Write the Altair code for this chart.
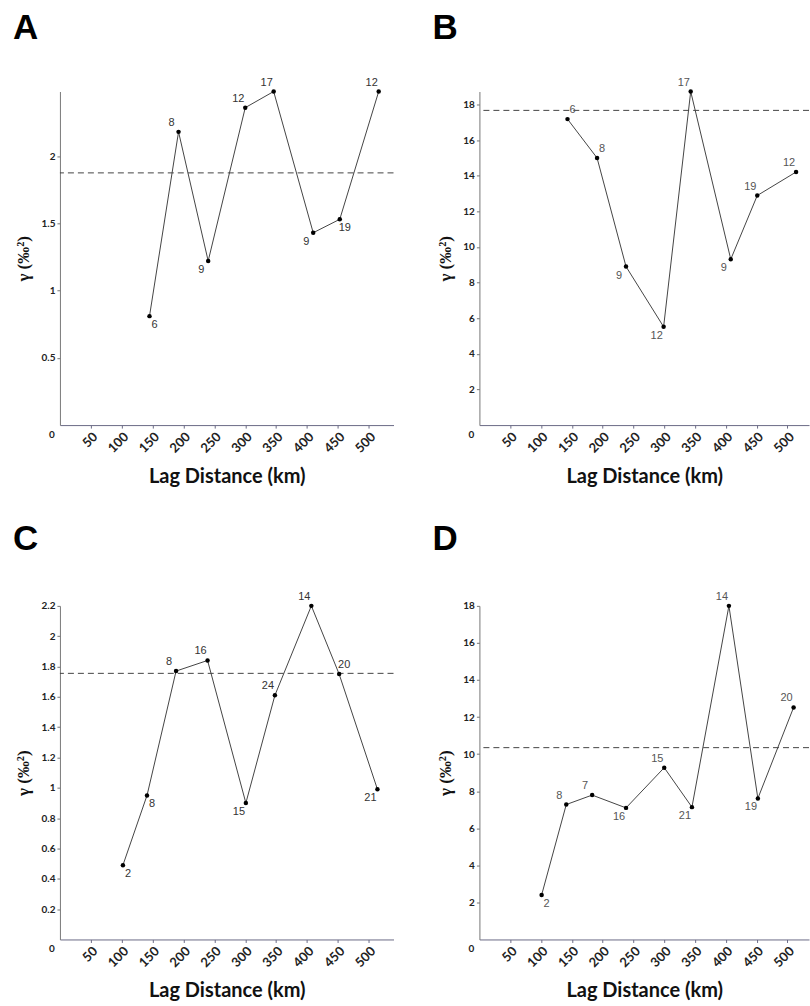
import altair as alt
import pandas as pd

# Lag classes (km), semivariance and number of pairs per lag, one set per panel
a_lag = [145, 192, 240, 300, 346, 410, 453, 516]
a_gamma = [0.81, 2.18, 1.22, 2.36, 2.48, 1.43, 1.53, 2.48]
a_pairs = [6, 8, 9, 12, 17, 9, 19, 12]
a_side = ["lr", "ul", "ll", "ul", "ul", "ll", "lr", "ul"]
a_sill = 1.875
a_ticks = [0.5, 1, 1.5, 2]

b_lag = [143, 191, 238, 299, 343, 408, 451, 514]
b_gamma = [17.18, 15.0, 8.9, 5.52, 18.73, 9.31, 12.89, 14.21]
b_pairs = [6, 8, 9, 12, 17, 9, 19, 12]
b_side = ["ur", "ur", "ll", "ll", "ul", "ll", "ul", "ul"]
b_sill = 17.67
b_ticks = [2, 4, 6, 8, 10, 12, 14, 16, 18]

c_lag = [102, 141, 188, 239, 301, 348, 407, 452, 514]
c_gamma = [0.49, 0.95, 1.77, 1.84, 0.90, 1.61, 2.20, 1.75, 0.99]
c_pairs = [2, 8, 8, 16, 15, 24, 14, 20, 21]
c_side = ["lr", "lr", "ul", "ul", "ll", "ul", "ul", "ur", "ll"]
c_sill = 1.755
c_ticks = [0.2, 0.4, 0.6, 0.8, 1, 1.2, 1.4, 1.6, 1.8, 2, 2.2]

d_lag = [101, 141, 183, 238, 300, 345, 405, 452, 510]
d_gamma = [2.40, 7.28, 7.79, 7.10, 9.27, 7.14, 18.0, 7.61, 12.52]
d_pairs = [2, 8, 7, 16, 15, 21, 14, 19, 20]
d_side = ["lr", "ul", "ul", "ll", "ul", "ll", "ul", "ll", "ul"]
d_sill = 10.35
d_ticks = [2, 4, 6, 8, 10, 12, 14, 16, 18]

x_ticks = [50, 100, 150, 200, 250, 300, 350, 400, 450, 500]

LABEL_OFFSETS = {"ul": (-7, -9), "ur": (5, -9), "ll": (-7, 9), "lr": (5, 9)}
X_AXIS_COLOR = "#6a6a86"
Y_AXIS_COLOR = "#777777"


def panel(letter, lag, gamma, pairs, side, sill, yticks, ymax, xmax, width, label_color, title_offset):
    df = pd.DataFrame({"lag": lag, "gamma": gamma, "pairs": pairs, "side": side})
    x_scale = alt.Scale(domain=[0, xmax], nice=False, zero=True)
    y_scale = alt.Scale(domain=[0, ymax], nice=False, zero=True)
    x_axis = alt.Axis(
        values=x_ticks,
        labelAngle=-45,
        labelOverlap=False,
        labelFont="Lato",
        labelFontWeight="bold",
        labelFontSize=13,
        labelColor="#222222",
        labelPadding=2,
        tickSize=3,
        tickColor=X_AXIS_COLOR,
        domainColor=X_AXIS_COLOR,
        grid=False,
        title="Lag Distance (km)",
        titleFont="Lato",
        titleFontSize=20,
        titleFontWeight="bold",
        titleColor="#111111",
        titlePadding=11,
    )
    y_axis = alt.Axis(
        values=yticks,
        format="~g",
        labelOverlap=False,
        labelFont="Lato",
        labelFontWeight="bold",
        labelFontSize=10,
        labelColor="#222222",
        labelPadding=2,
        tickSize=3,
        tickColor=Y_AXIS_COLOR,
        domainColor=Y_AXIS_COLOR,
        grid=False,
        title="γ (‰²)",
        titleFont="Liberation Serif",
        titleFontSize=17,
        titleFontWeight="bold",
        titleColor="#111111",
        titlePadding=8,
    )
    x = alt.X("lag:Q", scale=x_scale, axis=x_axis)
    y = alt.Y("gamma:Q", scale=y_scale, axis=y_axis)

    base = alt.Chart(df)
    line = base.mark_line(color="#444444", strokeWidth=1).encode(x=x, y=y)
    dots = base.mark_circle(color="#000000", size=20, opacity=1).encode(x=x, y=y)
    sill_rule = alt.Chart(pd.DataFrame({"sill": [sill]})).mark_rule(
        color="#444444", strokeWidth=1, strokeDash=[6, 4]
    ).encode(y=alt.Y("sill:Q", scale=y_scale, axis=y_axis))
    labels = []
    for key, (dx, dy) in LABEL_OFFSETS.items():
        labels.append(
            base.transform_filter(alt.datum.side == key)
            .mark_text(dx=dx, dy=dy, fontSize=11, font="Liberation Sans", color=label_color,
                       align="center", baseline="middle")
            .encode(x=x, y=y, text="pairs:Q")
        )
    origin = alt.Chart(pd.DataFrame({"lag": [0], "gamma": [0], "t": ["0"]})).mark_text(
        dx=-8, dy=10, fontSize=10, font="Lato", fontWeight="bold", color="#222222"
    ).encode(x=x, y=y, text="t:N")
    return alt.layer(line, sill_rule, dots, origin, *labels).properties(
        width=width,
        height=334,
        title=alt.TitleParams(
            letter, anchor="start", frame="group", dx=-47, offset=title_offset,
            fontSize=35, font="Liberation Sans", fontWeight="bold", color="#000000",
        ),
    )


pa = panel("A", a_lag, a_gamma, a_pairs, a_side, a_sill, a_ticks, 2.48, 540, 334, "#333333", 31)
pb = panel("B", b_lag, b_gamma, b_pairs, b_side, b_sill, b_ticks, 18.73, 535, 330, "#555555", 31)
pc = panel("C", c_lag, c_gamma, c_pairs, c_side, c_sill, c_ticks, 2.2, 540, 334, "#333333", 34)
pd_ = panel("D", d_lag, d_gamma, d_pairs, d_side, d_sill, d_ticks, 18.0, 535, 330, "#555555", 34)

chart = (
    alt.concat(pa, pb, pc, pd_, columns=2, spacing={"row": 35, "column": 38})
    .properties(padding={"left": 13, "top": 10, "right": 0, "bottom": 0}, background="white")
    .configure_view(strokeWidth=0)
)

chart.save("out.html", embed_options={"renderer": "svg", "actions": False})
